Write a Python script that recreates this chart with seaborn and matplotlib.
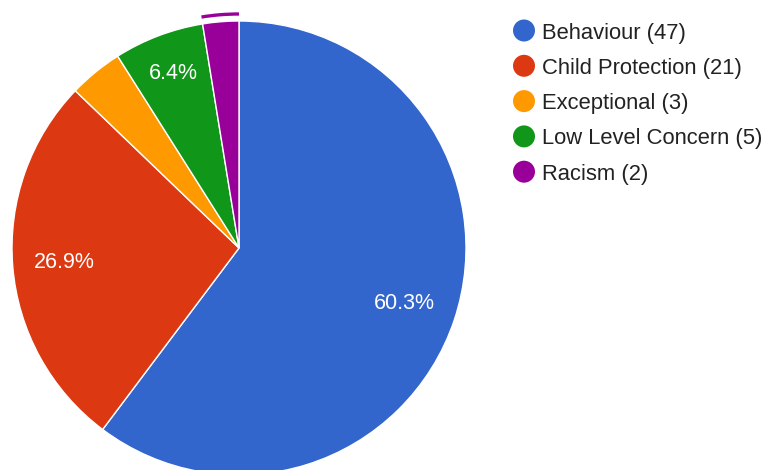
import numpy as np
import matplotlib
matplotlib.use('Agg')
import matplotlib.pyplot as plt
import seaborn as sns
from matplotlib.patches import Arc, Circle

# ---------------------------- data ----------------------------
CATEGORIES = ['Behaviour', 'Child Protection', 'Exceptional', 'Low Level Concern', 'Racism']
COUNTS = [47, 21, 3, 5, 2]
COLORS = ['#3366cc', '#dc3912', '#ff9900', '#109618', '#990099']

# ---------------------------- style ---------------------------
sns.set_theme(style='white')
plt.rcParams['font.family'] = ['Liberation Sans', 'DejaVu Sans']

W, H = 766, 470
fig = plt.figure(figsize=(W / 100, H / 100), dpi=100)
ax = fig.add_axes([0, 0, 1, 1])
ax.set_xlim(0, W)
ax.set_ylim(0, H)
ax.set_aspect('equal')
ax.axis('off')

palette = sns.color_palette(COLORS)
cx, cy, R = 239, H - 248, 227
total = sum(COUNTS)


def pct_label(p):
    # google charts hides labels on the thin slices
    return f'{p:.1f}%' if p >= 5 else ''


wedges, _, autotexts = ax.pie(
    COUNTS, colors=palette, startangle=90, counterclock=False,
    center=(cx, cy), radius=R, autopct=pct_label, pctdistance=0.77,
    wedgeprops=dict(edgecolor='white', linewidth=1),
    textprops=dict(color='white', fontsize=15.5),
)
ax.set_xlim(0, W)
ax.set_ylim(0, H)

# narrow slice label sits a bit further out, like google does
w = wedges[3]
mid = np.deg2rad((w.theta1 + w.theta2) / 2)
autotexts[3].set_position((cx + 0.82 * R * np.cos(mid), cy + 0.82 * R * np.sin(mid)))

# hover ring on the last slice (racism)
last_span = COUNTS[-1] / total * 360
ax.add_patch(Arc((cx, cy), 2 * 234, 2 * 234, theta1=90, theta2=90 + last_span,
                 color=COLORS[-1], lw=2.4))

# ---------------------------- legend --------------------------
for i, (name, n, col) in enumerate(zip(CATEGORIES, COUNTS, COLORS)):
    y = H - (30.5 + i * 35.3)
    ax.add_patch(Circle((524, y), 11, color=col, lw=0))
    ax.text(542, y, f'{name} ({n})', fontsize=15.8, color='#222222',
            va='center_baseline', ha='left')

fig.savefig('out.png', dpi=100, facecolor='white')
